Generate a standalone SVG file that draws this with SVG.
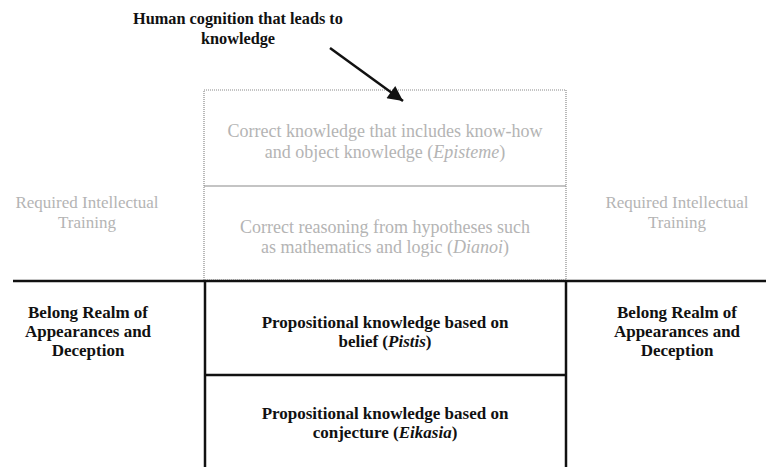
<svg xmlns="http://www.w3.org/2000/svg" width="766" height="467" viewBox="0 0 766 467">
<defs>
<style>
.t{font-family:"Liberation Serif","Times New Roman",serif;text-anchor:middle}
.b{font-weight:bold;fill:#111;font-size:17px}
.h{font-weight:bold;fill:#111;font-size:16.3px}
.g{fill:#b4b4b4;font-size:18px}
.gs{fill:#b4b4b4;font-size:17px}
.dot{fill:none;stroke:#8a8a8a;stroke-width:1.2;stroke-dasharray:1 1}
.solid{fill:none;stroke:#111;stroke-width:2.5}
</style>
<marker id="ah" viewBox="0 0 10 10" refX="10" refY="5" markerWidth="8" markerHeight="6" orient="auto" markerUnits="strokeWidth">
<path d="M0,0 L10,5 L0,10 z" fill="#111"/>
</marker>
</defs>
<rect width="766" height="467" fill="#fff"/>
<g id="title">
<text class="t h" x="238" y="24">Human cognition that leads to</text>
<text class="t h" x="238" y="44">knowledge</text>
</g>
<g id="episteme">
<rect class="dot" x="204" y="90" width="362" height="96"/>
<text class="t g" x="385" y="137">Correct knowledge that includes know-how</text>
<text class="t g" x="385" y="158">and object knowledge (<tspan font-style="italic">Episteme</tspan>)</text>
</g>
<g id="dianoia">
<rect class="dot" x="204" y="186" width="362" height="94"/>
<text class="t g" x="385" y="233">Correct reasoning from hypotheses such</text>
<text class="t g" x="385" y="253">as mathematics and logic (<tspan font-style="italic">Dianoi</tspan>)</text>
</g>
<g id="training-left">
<text class="t gs" x="87" y="208">Required Intellectual</text>
<text class="t gs" x="87" y="228">Training</text>
</g>
<g id="training-right">
<text class="t gs" x="677" y="208">Required Intellectual</text>
<text class="t gs" x="677" y="228">Training</text>
</g>
<g id="pistis">
<text class="t b" x="385" y="328">Propositional knowledge based on</text>
<text class="t b" x="385" y="347">belief (<tspan font-style="italic">Pistis</tspan>)</text>
</g>
<g id="eikasia">
<text class="t b" x="385" y="419">Propositional knowledge based on</text>
<text class="t b" x="385" y="438">conjecture (<tspan font-style="italic">Eikasia</tspan>)</text>
</g>
<g id="realm-left">
<text class="t b" x="88" y="318">Belong Realm of</text>
<text class="t b" x="88" y="337">Appearances and</text>
<text class="t b" x="88" y="356">Deception</text>
</g>
<g id="realm-right">
<text class="t b" x="677" y="318">Belong Realm of</text>
<text class="t b" x="677" y="337">Appearances and</text>
<text class="t b" x="677" y="356">Deception</text>
</g>
<g id="connectors">
<line x1="13" y1="281" x2="766" y2="281" class="solid"/>
<line x1="205" y1="281" x2="205" y2="467" class="solid"/>
<line x1="566" y1="281" x2="566" y2="467" class="solid"/>
<line x1="205" y1="375" x2="566" y2="375" class="solid" stroke-width="2"/>
<line x1="330" y1="48" x2="403" y2="101" stroke="#111" stroke-width="2.5" marker-end="url(#ah)"/>
</g>
</svg>
